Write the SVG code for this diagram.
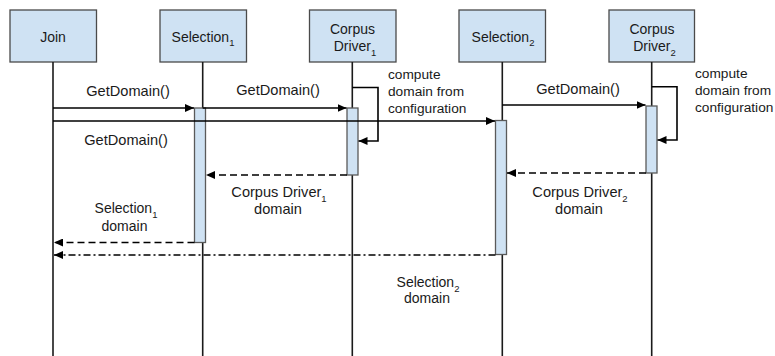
<svg xmlns="http://www.w3.org/2000/svg" width="775" height="356" viewBox="0 0 775 356">
<style>
.box{fill:#cfe2f3;stroke:#4a4a4a;stroke-width:1.3}
.act{fill:#cfe2f3;stroke:#5a5a5a;stroke-width:1.3}
.life{stroke:#1a1a1a;stroke-width:1.6;fill:none}
.msg{stroke:#000;stroke-width:1.6;fill:none}
.ret{stroke:#000;stroke-width:1.6;fill:none;stroke-dasharray:7,4}
.retdd{stroke:#000;stroke-width:1.6;fill:none;stroke-dasharray:7,3,2,3}
text{font-family:"Liberation Sans",Arial,sans-serif;fill:#1a1a1a}
.t{font-size:14px;text-anchor:middle}
.l{font-size:14.6px;text-anchor:middle}
.a{font-size:13.7px}
.sub{font-size:9.5px}
</style>
<defs>
<marker id="ah" markerWidth="10" markerHeight="8" refX="9" refY="4" orient="auto" markerUnits="userSpaceOnUse">
<path d="M0,0 L9,4 L0,8 z" fill="#000"/>
</marker>
</defs>

<g id="join">
<rect class="box" x="10" y="10" width="86.5" height="52"/>
<line class="life" x1="53" y1="62" x2="53" y2="356"/>
<text class="t" x="53" y="41.5">Join</text>
</g>

<g id="selection1">
<rect class="box" x="160" y="10" width="86.5" height="52"/>
<line class="life" x1="202.7" y1="62" x2="202.7" y2="356"/>
<rect class="act" x="194.5" y="108" width="11" height="134.5"/>
<text class="t" x="203" y="41.5">Selection<tspan class="sub" dy="4.5">1</tspan></text>
</g>

<g id="corpusdriver1">
<rect class="box" x="309.5" y="10" width="86.5" height="52"/>
<line class="life" x1="352.3" y1="62" x2="352.3" y2="356"/>
<rect class="act" x="347" y="108" width="11" height="67"/>
<text class="t" x="352.5" y="33.5">Corpus</text>
<text class="t" x="355" y="51">Driver<tspan class="sub" dy="4.5">1</tspan></text>
</g>

<g id="selection2">
<rect class="box" x="459" y="10" width="86.5" height="52"/>
<line class="life" x1="502.3" y1="62" x2="502.3" y2="356"/>
<rect class="act" x="495.5" y="120.5" width="11" height="134"/>
<text class="t" x="503" y="41.5">Selection<tspan class="sub" dy="4.5">2</tspan></text>
</g>

<g id="corpusdriver2">
<rect class="box" x="609" y="10" width="85.5" height="52"/>
<line class="life" x1="651.7" y1="62" x2="651.7" y2="356"/>
<rect class="act" x="646" y="106" width="11" height="67"/>
<text class="t" x="652" y="33.5">Corpus</text>
<text class="t" x="654.5" y="51">Driver<tspan class="sub" dy="4.5">2</tspan></text>
</g>

<g id="connectors">
<line class="msg" x1="53" y1="108" x2="194" y2="108" marker-end="url(#ah)"/>
<line class="msg" x1="53" y1="121" x2="495" y2="121" marker-end="url(#ah)"/>
<line class="msg" x1="202.7" y1="108" x2="346.5" y2="108" marker-end="url(#ah)"/>
<line class="msg" x1="502.3" y1="105" x2="645.5" y2="105" marker-end="url(#ah)"/>
<path class="msg" d="M352.3,87.5 H378 V141 H358.5" marker-end="url(#ah)"/>
<path class="msg" d="M651.7,86.7 H677 V140 H657.5" marker-end="url(#ah)"/>
<line class="ret" x1="347" y1="175" x2="206" y2="175" marker-end="url(#ah)"/>
<line class="ret" x1="646" y1="173" x2="507" y2="173" marker-end="url(#ah)"/>
<line class="ret" x1="194.5" y1="242.5" x2="54" y2="242.5" marker-end="url(#ah)"/>
<line class="retdd" x1="495.5" y1="255" x2="54" y2="255" marker-end="url(#ah)"/>

<text class="l" x="128" y="96">GetDomain()</text>
<text class="l" x="126" y="145">GetDomain()</text>
<text class="l" x="278" y="95">GetDomain()</text>
<text class="l" x="578" y="94">GetDomain()</text>

<text class="a" x="388" y="79">compute</text>
<text class="a" x="388" y="96">domain from</text>
<text class="a" x="388" y="113">configuration</text>
<text class="a" x="695" y="78">compute</text>
<text class="a" x="695" y="95">domain from</text>
<text class="a" x="695" y="112">configuration</text>

<text class="l" x="279" y="197">Corpus Driver<tspan class="sub" dy="4.5">1</tspan></text>
<text class="l" x="278" y="213.5">domain</text>
<text class="l" x="580" y="197">Corpus Driver<tspan class="sub" dy="4.5">2</tspan></text>
<text class="l" x="579" y="213.5">domain</text>
<text class="t" x="126" y="213">Selection<tspan class="sub" dy="4.5">1</tspan></text>
<text class="t" x="124.5" y="230.5">domain</text>
<text class="t" x="428" y="287">Selection<tspan class="sub" dy="4.5">2</tspan></text>
<text class="t" x="427" y="303">domain</text>
</g>
</svg>
